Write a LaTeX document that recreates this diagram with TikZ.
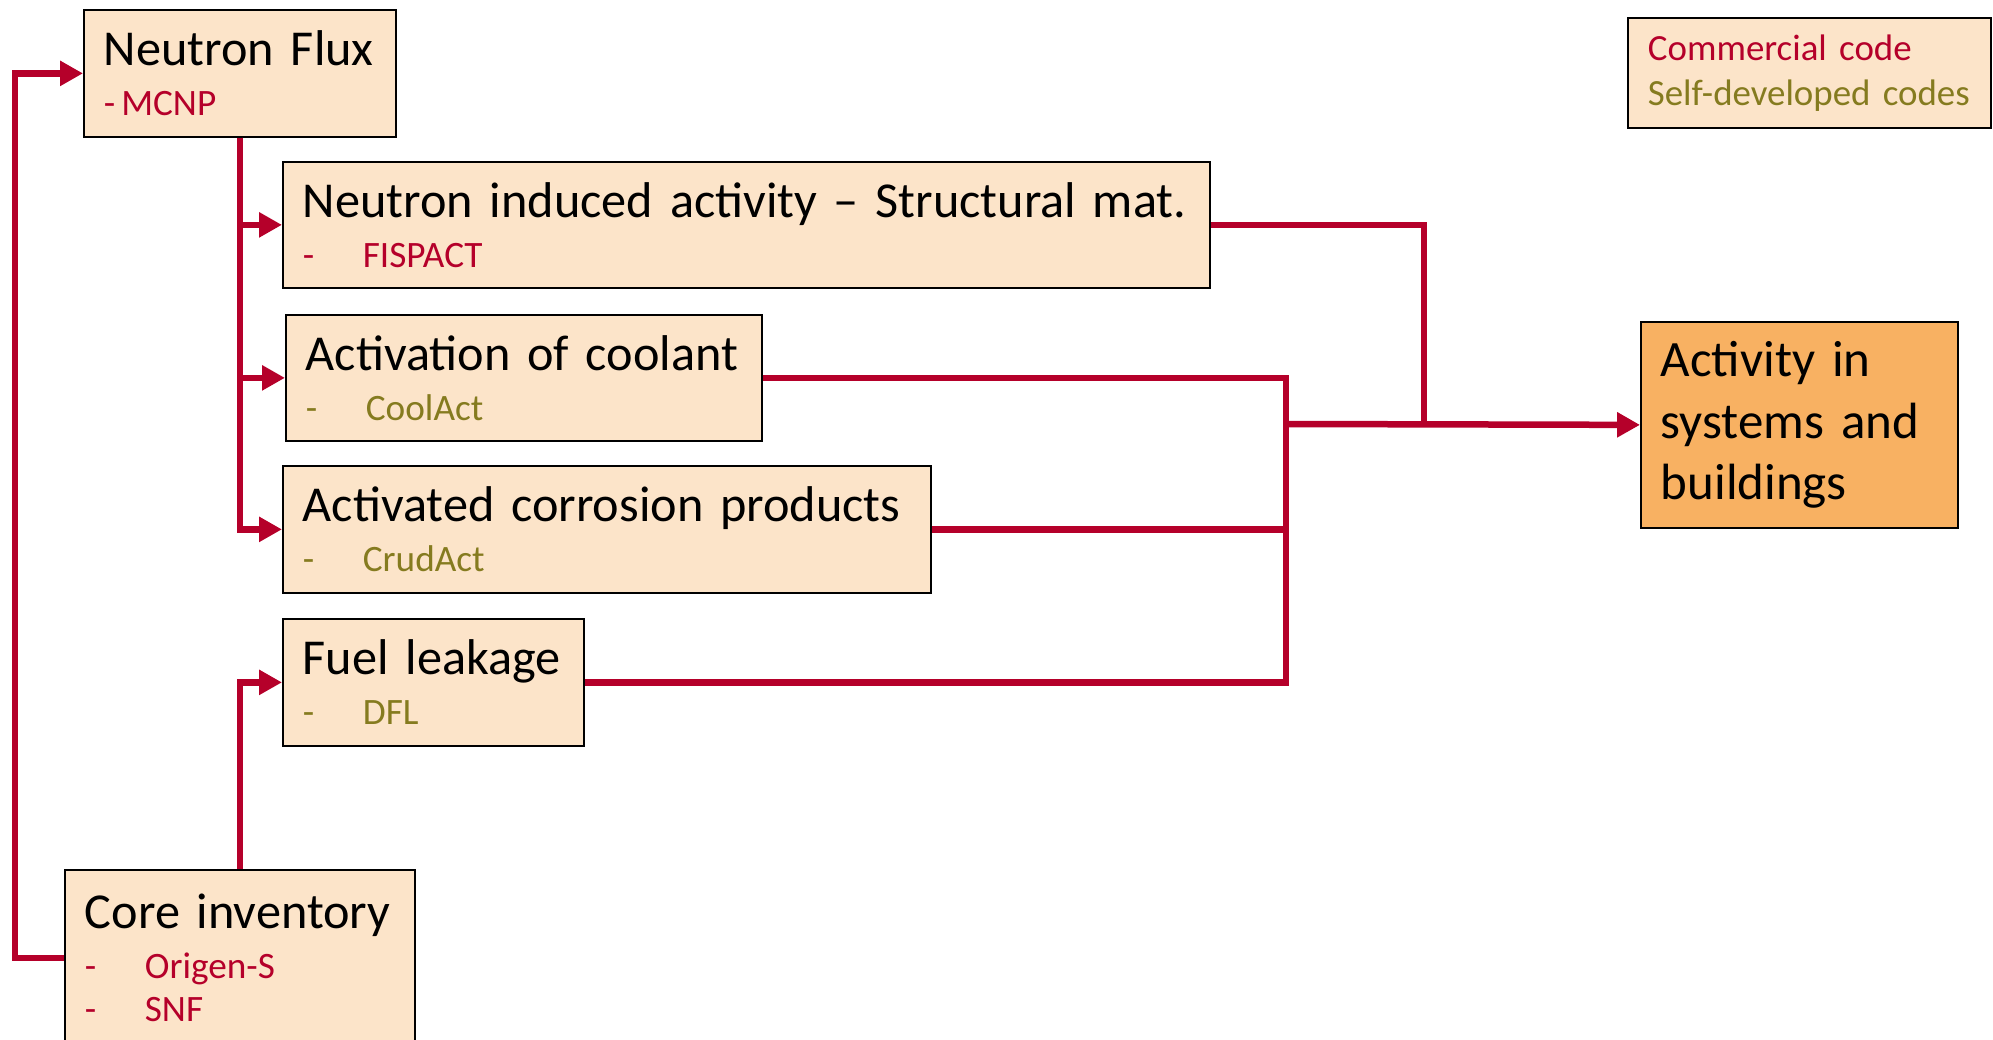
\documentclass[tikz,border=0pt]{standalone}
\usepackage{fontspec}
\setmainfont{Carlito}
\usepackage{xcolor}
\usetikzlibrary{arrows.meta}

\definecolor{boxfill}{HTML}{FCE4C9}
\definecolor{actfill}{HTML}{F8B162}
\definecolor{flowred}{HTML}{B5002A}
\definecolor{selfolive}{HTML}{857B1F}

\newcommand{\commcode}[1]{{\fontsize{10.6}{14.2}\selectfont\color{flowred}\makebox[6mm][l]{-}#1}}
\newcommand{\selfcode}[1]{{\fontsize{10.6}{14.2}\selectfont\color{selfolive}\makebox[6mm][l]{-}#1}}

\begin{document}
\begin{tikzpicture}[
	box/.style={draw=black, line width=0.5pt, fill=boxfill, anchor=north west, align=left,
		inner xsep=2mm, inner ysep=0pt, font=\fontsize{14.3}{14.2}\selectfont},
	flow/.style={draw=flowred, line width=0.65mm, -{Triangle[length=2.3mm,width=2.4mm]}},
	link/.style={draw=flowred, line width=0.65mm}]
	\useasboundingbox (0,0) rectangle (19.93,10.39);
	% Boxes
	\node[box, text width=2.72cm, minimum height=1.27cm] (flux) at (0.83,10.30)
		{Neutron Flux\\{\fontsize{10.6}{14.2}\selectfont\color{flowred}-\kern0.6mm MCNP}};
	\node[box, text width=8.87cm, minimum height=1.26cm] (induced) at (2.82,8.78)
		{\mbox{Neutron induced activity -- Structural mat.}\\\commcode{FISPACT}};
	\node[box, text width=4.36cm, minimum height=1.26cm] (coolant) at (2.85,7.25)
		{\mbox{Activation of coolant}\\\selfcode{CoolAct}};
	\node[box, text width=6.08cm, minimum height=1.27cm] (corrosion) at (2.82,5.74)
		{\mbox{Activated corrosion products}\\\selfcode{CrudAct}};
	\node[box, text width=2.61cm, minimum height=1.27cm] (leakage) at (2.82,4.21)
		{Fuel leakage\\\selfcode{DFL}};
	\node[box, text width=3.10cm, minimum height=1.76cm] (core) at (0.64,1.70)
		{Core inventory\\\commcode{Origen-S}\\[-1.7pt]\commcode{SNF}};
	\node[box, fill=actfill, text width=2.77cm, minimum height=2.06cm,
		font=\fontsize{14.5}{17.4}\selectfont] (activity) at (16.40,7.18)
		{Activity in\\systems and\\buildings};
	\node[box, text width=3.23cm, minimum height=1.10cm,
		font=\fontsize{10.5}{12.8}\selectfont] (legend) at (16.27,10.22)
		{{\color{flowred}Commercial code}\\{\color{selfolive}Self-developed codes}};
	% Joins
	\coordinate (bus) at (12.86,6.15);
	\coordinate (tap) at (14.24,6.15);
	% Arrows
	\draw[flow] (core.west) -- ++(-0.49,0) |- (flux.west);
	\draw[flow] (flux.south) |- (induced.west);
	\draw[flow] (flux.south) |- (coolant.west);
	\draw[flow] (flux.south) |- (corrosion.west);
	\draw[flow] (core.north) |- (leakage.west);
	\draw[link] (induced.east) -| (tap);
	\draw[link] (coolant.east) -| (bus);
	\draw[link] (corrosion.east) -| (bus);
	\draw[link] (leakage.east) -| (bus);
	\draw[flow] (bus) -- (activity.west);
\end{tikzpicture}
\end{document}
